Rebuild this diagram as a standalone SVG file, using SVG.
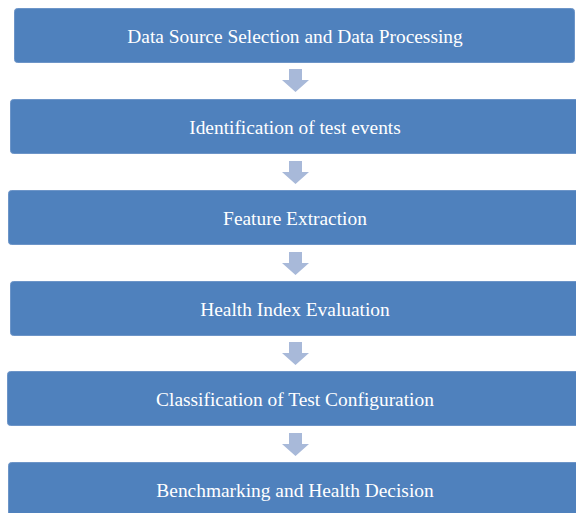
<svg xmlns="http://www.w3.org/2000/svg" width="576" height="513" viewBox="0 0 576 513">
  <style>
    .box { fill: #4f81bd; stroke: #6d95c8; stroke-width: 1; }
    .label { fill: #ffffff; font-family: "Liberation Serif", "DejaVu Serif", serif; font-size: 19.4px; text-anchor: middle; }
    .step { fill: #a8b9d9; }
  </style>
  <defs>
    <path id="down" d="M-6.5,0 H6.5 V11 H13.5 L0,23 L-13.5,11 H-6.5 Z"/>
  </defs>
  <rect width="576" height="513" fill="#ffffff"/>

  <g id="connectors">
    <use href="#down" class="step" x="295.5" y="69"/>
    <use href="#down" class="step" x="295.5" y="161"/>
    <use href="#down" class="step" x="295.5" y="252"/>
    <use href="#down" class="step" x="295.5" y="342"/>
    <use href="#down" class="step" x="295.5" y="433"/>
  </g>

  <g id="data-source">
    <rect class="box" x="14.5" y="8.5" width="560" height="54" rx="3"/>
    <text class="label" x="295" y="42.5">Data Source Selection and Data Processing</text>
  </g>
  <g id="test-events">
    <rect class="box" x="10.5" y="99.5" width="580" height="54" rx="3"/>
    <text class="label" x="295" y="133.5">Identification of test events</text>
  </g>
  <g id="feature-extraction">
    <rect class="box" x="8.5" y="190.5" width="580" height="54" rx="3"/>
    <text class="label" x="295" y="224.5">Feature Extraction</text>
  </g>
  <g id="health-index">
    <rect class="box" x="10.5" y="281.5" width="580" height="54" rx="3"/>
    <text class="label" x="295" y="315.5">Health Index Evaluation</text>
  </g>
  <g id="classification">
    <rect class="box" x="7.5" y="371.5" width="580" height="54" rx="3"/>
    <text class="label" x="295" y="405.5">Classification of Test Configuration</text>
  </g>
  <g id="benchmarking">
    <rect class="box" x="8.5" y="462.5" width="580" height="60" rx="3"/>
    <text class="label" x="295" y="496.5">Benchmarking and Health Decision</text>
  </g>
</svg>
